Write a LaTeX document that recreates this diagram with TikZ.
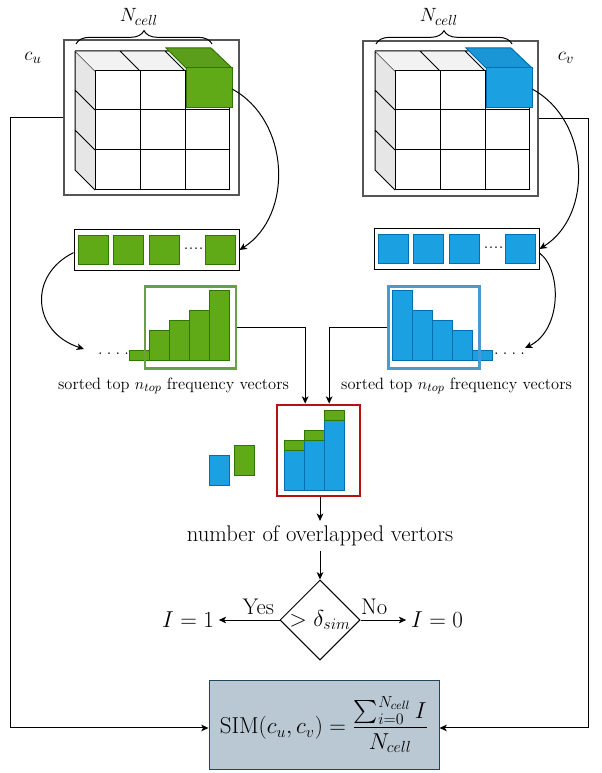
\documentclass[tikz,border=0pt]{standalone}
\usepackage{exscale}
\usetikzlibrary{shapes.geometric,arrows.meta,decorations.pathreplacing}
\definecolor{gfill}{HTML}{60A917}
\definecolor{gline}{HTML}{2D7600}
\definecolor{gtop}{HTML}{5A9E1C}
\definecolor{bfill}{HTML}{1BA1E2}
\definecolor{bline}{HTML}{006EAF}
\definecolor{btop}{HTML}{1A95D6}
\definecolor{topgray}{HTML}{F2F2F2}
\definecolor{sidegray}{HTML}{E6E6E6}
\definecolor{framegray}{HTML}{555555}
\definecolor{gframe}{HTML}{6A9F45}
\definecolor{bframe}{HTML}{4A9AD0}
\definecolor{rframe}{HTML}{B81010}
\definecolor{simfill}{HTML}{BAC8D3}
\definecolor{simline}{HTML}{23445D}
\newcommand\cubepic[5]{%
\begin{scope}[xshift=#1]
 \fill[sidegray] (75,51) -- (95,71) -- (95,190) -- (75,170) -- cycle;
 \draw (75,51) -- (95,71) (75,51) -- (75,170) -- (95,190)
       (75,90) -- (95,110) (75,130) -- (95,150);
 \fill[topgray] (75,51) -- (209,51) -- (229,71) -- (95,71) -- cycle;
 \draw (75,51) -- (209,51) (120,51) -- (140,71) (165,51) -- (185,71) (209,51) -- (229,71);
 \draw[fill=white] (95,71) rectangle (229,190);
 \draw (140,71) -- (140,190) (185,71) -- (185,190) (95,110) -- (229,110) (95,150) -- (229,150);
 \draw[draw=#3, fill=#4] (166,48) -- (211,48) -- (232,68) -- (186,68) -- cycle;
 \draw[draw=#3, fill=#2] (186,68) rectangle (232,108);
 \coordinate (#5) at (232,89);
 \draw[decorate, decoration={brace, amplitude=10pt}] (76,44) -- (212,44);
 \node[lab] (#5-N) at (139,17) {$N_{cell}$};
\end{scope}}
\begin{document}
\begin{tikzpicture}[x=0.75pt, y=-0.75pt, line width=0.75pt,
  arr/.style={-{Stealth[length=5.5pt,width=5pt,inset=1.5pt]}},
  lab/.style={font=\fontsize{15}{18}\selectfont},
  big/.style={font=\fontsize{17}{20}\selectfont},
  small/.style={font=\fontsize{12.3}{15}\selectfont},
  cubeframe/.style={draw=framegray, line width=1.8pt, fill=white, minimum width=131.25pt, minimum height=116.25pt, inner sep=0pt},
  vecbox/.style={draw=black, fill=white, minimum width=123.75pt, minimum height=30pt, inner sep=0pt},
  gsq/.style={draw=gline, fill=gfill, minimum width=22.5pt, minimum height=21.75pt, inner sep=0pt},
  bsq/.style={draw=bline, fill=bfill, minimum width=22.5pt, minimum height=21.75pt, inner sep=0pt},
  gbar/.style={draw=gline, fill=gfill},
  bbar/.style={draw=bline, fill=bfill},
  histframe/.style={line width=2pt, minimum width=68.25pt, minimum height=61.5pt, inner sep=0pt}]
\useasboundingbox (0,0) rectangle (602,773);

% cubes
\node[cubeframe] (cuframe) at (151.5,117.5) {};
\node[cubeframe] (cvframe) at (450.5,118.5) {};
\cubepic{0pt}{gfill}{gline}{gtop}{gc}
\cubepic{225pt}{bfill}{bline}{btop}{bc}
\node[lab] (culab) at (33,58) {$c_u$};
\node[lab] (cvlab) at (566,58) {$c_v$};

% vector boxes
\node[vecbox] (vecL) at (156.5,250) {};
\node[gsq] (gs1) at (93,250.5) {};
\node[gsq] (gs2) at (128,250.5) {};
\node[gsq] (gs3) at (164,250.5) {};
\node[gsq] (gs4) at (220,250.5) {};
\node[lab, inner sep=0pt] (gdots) at (193.5,249) {....};
\node[vecbox] (vecR) at (456.5,249) {};
\node[bsq] (bs1) at (393,249.5) {};
\node[bsq] (bs2) at (428,249.5) {};
\node[bsq] (bs3) at (464,249.5) {};
\node[bsq] (bs4) at (520,249.5) {};
\node[lab, inner sep=0pt] (bdots) at (493.5,248) {....};

% histograms
\draw[gbar] (129.3,350) rectangle (149.3,360);
\draw[gbar] (149.3,330) rectangle (169.3,360);
\draw[gbar] (169.3,320) rectangle (189.3,360);
\draw[gbar] (189.3,310) rectangle (209.3,360);
\draw[gbar] (209.3,290) rectangle (229.3,360);
\node[histframe, draw=gframe] (histL) at (190.5,327.5) {};
\node[lab, inner sep=0pt] (hdotsL) at (113.5,354) {.\kern2.8pt.\kern2.8pt.\kern2.8pt.};
\coordinate (aL) at (84,349);

\draw[bbar] (392,290) rectangle (412,360);
\draw[bbar] (412,310) rectangle (432,360);
\draw[bbar] (432,320) rectangle (452,360);
\draw[bbar] (452,330) rectangle (472,360);
\draw[bbar] (472,350) rectangle (492,360);
\node[histframe, draw=bframe] (histR) at (434,327.5) {};
\node[lab, inner sep=0pt] (hdotsR) at (509.5,354) {.\kern2.8pt.\kern2.8pt.\kern2.8pt.};
\coordinate (aR) at (525,348);

\node[small] (sortL) at (173.5,386) {sorted top $n_{top}$ frequency vectors};
\node[small] (sortR) at (456.5,386) {sorted top $n_{top}$ frequency vectors};

% overlap box
\node[draw=rframe, line width=2pt, fill=white, minimum width=62.25pt, minimum height=68.25pt, inner sep=0pt] (overlap) at (318.5,450.5) {};
\draw[bbar] (284,450) rectangle (304.3,490);
\draw[gbar] (284,440) rectangle (304.3,450);
\draw[bbar] (304.3,440) rectangle (324.3,490);
\draw[gbar] (304.3,430) rectangle (324.3,440);
\draw[bbar] (324.3,420) rectangle (344.7,490);
\draw[gbar] (324.3,410) rectangle (344.7,420);
\draw[bbar] (209,455) rectangle (229,485);
\draw[gbar] (234,445) rectangle (254,475);

\node[big] (numtext) at (320,536) {number of overlapped vertors};
\node[draw, diamond, aspect=1, minimum width=60pt, minimum height=60pt, inner sep=0pt, big] (dec) at (320,620) {\makebox[0pt][c]{$>\delta_{sim}$}};
\node[big] (I1) at (188,620) {$I=1$};
\node[big] (I0) at (437,620) {$I=0$};
\node[draw=simline, fill=simfill, minimum width=172.5pt, minimum height=66.75pt, inner sep=0pt, font=\fontsize{17.5}{22}\selectfont] (SIM) at (324,724.5) {$\mathrm{SIM}(c_u,c_v)=\displaystyle\frac{\sum_{i=0}^{N_{cell}}I}{N_{cell}}$};

% connectors
\draw[arr] (gc) .. controls (290,120) and (294,215) .. (vecL.east);
\draw[arr] (bc) .. controls (590,120) and (594,215) .. (vecR.east);
\draw[arr] ([yshift=-2pt]vecL.west) .. controls (28,275) and (32,332) .. (aL);
\draw[arr] ([yshift=-3pt]vecR.east) .. controls (562,270) and (562,330) .. (aR);
\draw[arr] (histL.east) -| ([xshift=-10pt]overlap.north);
\draw[arr] (histR.west) -| ([xshift=8pt]overlap.north);
\draw[arr] (overlap.south -| numtext.north) -- (numtext.north);
\draw[arr] (numtext.south) -- (dec.north);
\draw[arr] (dec.west) -- node[big, above, pos=0.35] (yes) {Yes} (I1.east);
\draw[arr] (dec.east) -- node[big, above, pos=0.3] (no) {No} (I0.west);
\draw[arr] (cuframe.west) -- (10,117.5) |- ([yshift=-2.6pt]SIM.west);
\draw[arr] (cvframe.east) -- (588,118.5) |- ([yshift=-2.6pt]SIM.east);
\end{tikzpicture}
\end{document}
